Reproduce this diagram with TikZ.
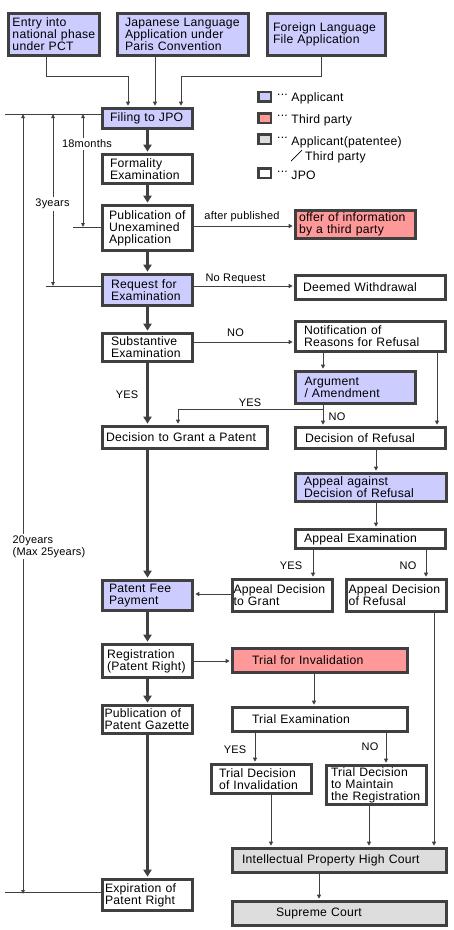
\documentclass[tikz,border=0pt]{standalone}
\usepackage{fontspec}
\setmainfont{Liberation Sans}[LetterSpace=2]
\usepackage{tikz}
\usetikzlibrary{arrows.meta}
\definecolor{lineGray}{HTML}{404040}
\definecolor{appBlue}{HTML}{CCCCFF}
\definecolor{thirdRed}{HTML}{FF9999}
\definecolor{courtGray}{HTML}{DDDDDD}
\tikzset{
  >=Stealth,
  every node/.append style={font=\fontsize{12.2}{12}\selectfont},
}
\newcommand{\lgdots}{\raisebox{6.5pt}{...}}

\begin{document}
\begin{tikzpicture}[
  x=1pt, y=-1pt,
  box/.style   ={draw=lineGray, line width=3pt, inner xsep=0pt, inner ysep=0pt, align=left},
  sz/.style n args={3}{minimum width=#1pt, text width=#1pt, minimum height=#2pt,
                 execute at begin node={\leftskip=#3pt\rightskip=-30pt plus 1fil}},
  cApp/.style  ={box, fill=appBlue},
  cThird/.style={box, fill=thirdRed},
  cCourt/.style={box, fill=courtGray},
  cJPO/.style  ={box, fill=white},
  lgbox/.style ={line width=2.5pt, minimum width=12.5pt, minimum height=9.5pt},
  lgtext/.style={anchor=base west, inner sep=0pt},
  arrowthin/.style ={draw=lineGray, line width=1pt, -{Triangle[length=4pt,width=4pt]}, shorten >=1.3pt},
  arrowthick/.style={draw=lineGray, line width=3.5pt, -{Triangle[length=7pt,width=8pt]}, shorten >=1.3pt},
  tline/.style ={draw=lineGray, line width=0.8pt},
  tarrow/.style={tline, {Triangle[length=4pt,width=3.5pt]}-{Triangle[length=4pt,width=3.5pt]}},
  note/.style  ={font=\fontsize{11}{12}\selectfont, inner sep=1pt},
  gap/.style   ={note, fill=white, inner sep=2pt}
]
\useasboundingbox (0,0) rectangle (454,930);

% applications
\node[cApp, sz={91}{42}{4}]     (entry) at (54,34.5)    {Entry into\\national phase\\under PCT};
\node[cApp, sz={131}{42}{7.5}]  (jpn)   at (183,34.5)   {Japanese Language\\Application under\\Paris Convention};
\node[cApp, sz={118}{42}{5.5}]  (frgn)  at (326.5,34.5) {Foreign Language\\File Application};

% main column
\node[cApp, sz={90}{20}{7.5}]   (filing)  at (147.5,118.5) {Filing to JPO};
\node[cJPO, sz={90}{29}{7.5}]   (formal)  at (147.5,169)   {Formality\\Examination};
\node[cJPO, sz={90}{45}{6.5}]   (pubapp)  at (147.5,228)   {Publication of\\Unexamined\\Application};
\node[cApp, sz={90}{31}{8.5}]   (request) at (147.5,290)   {Request for\\Examination};
\node[cJPO, sz={90}{28}{8.5}]   (subst)   at (147.5,347.5) {Substantive\\Examination};
\node[cJPO, sz={165}{22}{3.5}]  (grant)   at (185,437.5)   {Decision to Grant a Patent};
\node[cApp, sz={90}{30}{6.5}]   (fee)     at (147.5,595.5) {Patent Fee\\Payment};
\node[cJPO, sz={90}{33}{4.5}]   (regist)  at (147.5,661)   {Registration\\(Patent Right)};
\node[cJPO, sz={90}{28}{2}]     (gazette) at (147.5,719.5) {Publication of\\Patent Gazette};
\node[cJPO, sz={90}{31}{2.5}]   (expire)  at (147.5,895)   {Expiration of\\Patent Right};

% right column
\node[cThird, sz={120}{28}{3.5}] (offer)     at (355.5,224.5) {offer of information\\by a third party};
\node[cJPO, sz={150}{24}{7.5}]   (withdraw)  at (370.5,287.5) {Deemed Withdrawal};
\node[cJPO, sz={150}{30}{8.5}]   (notice)    at (370.5,336.5) {Notification of\\Reasons for Refusal};
\node[cApp, sz={120}{32}{9}]     (argue)     at (355.5,387.5) {Argument\\/ Amendment};
\node[cJPO, sz={150}{21}{9.5}]   (refusal)   at (370.5,438)   {Decision of Refusal};
\node[cApp, sz={151}{28}{8.5}]   (appeal)    at (371,487.5)   {Appeal against\\Decision of Refusal};
\node[cJPO, sz={150}{19}{8.5}]   (appexam)   at (370.5,539)   {Appeal Examination};
\node[cJPO, sz={100}{32}{1}]     (appgrant)  at (282.5,595.5) {Appeal Decision\\to Grant};
\node[cJPO, sz={100}{32}{2}]     (apprefuse) at (396.5,595.5) {Appeal Decision\\of Refusal};
\node[cThird, sz={175}{24}{19.5}] (trial)    at (320,660.5)   {Trial for Invalidation};
\node[cJPO, sz={175}{24}{19.5}]  (trialexam) at (320,719.5)   {Trial Examination};
\node[cJPO, sz={100}{29}{7.5}]   (invalid)   at (261.5,779)   {Trial Decision\\of Invalidation};
\node[cJPO, sz={100}{39}{4.5}]   (maintain)  at (376.5,785)   {Trial Decision\\to Maintain\\the Registration};
\node[cCourt, sz={214}{24}{9.5}] (ipcourt)   at (339.5,860.5) {Intellectual Property High Court};
\node[cCourt, sz={214}{24}{43.5}] (supreme)  at (339.5,913.5) {Supreme Court};

% legend
\node[cApp,   lgbox] (lgApp)    at (264.5,96.5) {};
\node[cThird, lgbox] (lgThird)  at (264.5,118)  {};
\node[cCourt, lgbox] (lgCourt)  at (264.5,139)  {};
\node[cJPO,   lgbox] (lgJPO)    at (264.5,173)  {};
\node[lgtext] (lgAppText)   at (277,101.5) {\lgdots\ Applicant};
\node[lgtext] (lgThirdText) at (277,123)   {\lgdots\ Third party};
\node[lgtext] (lgCourtText) at (277,145)   {\lgdots\ Applicant(patentee)};
\node[lgtext] (lgCourtAlt)  at (305,160)   {Third party};
\draw[line width=0.7pt] (291,161) -- (302,150);
\node[lgtext] (lgJPOText)   at (277,179)   {\lgdots\ JPO};

% filing inputs
\draw[arrowthin] (entry.south -| 46,0) |- (128,76) -- (filing.north -| 128,0);
\draw[arrowthin] (jpn.south -| 155,0) -- (filing.north -| 155,0);
\draw[arrowthin] (frgn.south -| 321,0) |- (181,76) -- (filing.north -| 181,0);

% main flow
\draw[arrowthick] (filing) -- (formal);
\draw[arrowthick] (formal) -- (pubapp);
\draw[arrowthick] (pubapp) -- (request);
\draw[arrowthick] (request) -- (subst);
\draw[arrowthick] (subst.south) -- (subst.south |- grant.north);
\draw[arrowthick] (grant.south -| fee.north) -- (fee.north);
\draw[arrowthick] (fee) -- (regist);
\draw[arrowthick] (regist) -- (gazette);
\draw[arrowthick] (gazette) -- (expire);
\node[note] (lYes1) at (127,394.5) {YES};

% examination branches
\draw[arrowthin] (pubapp.east |- 0,226) -- (offer.west |- 0,226);
\node[note] (lAfter) at (242,217) {after published};
\draw[arrowthin] (request.east |- 0,286) -- (withdraw.west |- 0,286);
\node[note] (lNoReq) at (235.5,278.5) {No Request};
\draw[arrowthin] (subst.east |- 0,342) -- (notice.west |- 0,342);
\node[note] (lNo1) at (235.5,332.5) {NO};
\draw[arrowthin] (notice.south -| 323,0) -- (argue.north -| 323,0);
\draw[arrowthin] (argue.south -| 323,0) -- (refusal.north -| 323,0);
\coordinate (fork) at (323,409);
\draw[arrowthin] (fork) -| (grant.north -| 178,0);
\node[note] (lYes2) at (250,402.5) {YES};
\node[note, anchor=west] (lNo2) at (327.5,416.5) {NO};
\draw[arrowthin] (notice.south -| 437,0) -- (refusal.north -| 437,0);

% appeal
\draw[arrowthin] (refusal.south -| 376,0) -- (appeal.north -| 376,0);
\draw[arrowthin] (appeal.south -| 376,0) -- (appexam.north -| 376,0);
\draw[arrowthin] (appexam.south -| 313,0) -- (appgrant.north -| 313,0);
\node[note] (lYes3) at (291,566) {YES};
\draw[arrowthin] (appexam.south -| 426,0) -- (apprefuse.north -| 426,0);
\node[note] (lNo3) at (408,566) {NO};
\draw[arrowthin] (appgrant.west |- 0,594) -- (fee.east |- 0,594);
\draw[arrowthin] (apprefuse.south -| 434,0) -- (ipcourt.north -| 434,0);

% invalidation trial
\draw[arrowthin] (regist.east |- 0,661) -- (trial.west |- 0,661);
\draw[arrowthin] (trial.south -| 314,0) -- (trialexam.north -| 314,0);
\draw[arrowthin] (trialexam.south -| 255,0) -- (invalid.north -| 255,0);
\node[note] (lYes4) at (235,749.5) {YES};
\draw[arrowthin] (trialexam.south -| 386,0) -- (maintain.north -| 386,0);
\node[note] (lNo4) at (370,747) {NO};
\draw[arrowthin] (invalid.south -| 271,0) -- (ipcourt.north -| 271,0);
\draw[arrowthin] (maintain.south -| 369,0) -- (ipcourt.north -| 369,0);
\draw[arrowthin] (ipcourt.south -| 319,0) -- (supreme.north -| 319,0);

% time limits
\coordinate (tTop) at (5,114);
\coordinate (tPub) at (73,227);
\coordinate (tReq) at (46,286);
\coordinate (tEnd) at (5,892);
\draw[tline] (tTop) -- (filing.west |- tTop);
\draw[tline] (tPub) -- (pubapp.west |- tPub);
\draw[tline] (tReq) -- (request.west |- tReq);
\draw[tline] (tEnd) -- (expire.west |- tEnd);
\draw[tarrow] (tTop -| 23,0) -- ([yshift=-2pt]tEnd -| 23,0);
\draw[tarrow] (tTop -| 53,0) -- (tReq -| 53,0);
\draw[tarrow] (tTop -| 83,0) -- (tPub -| 83,0);
\node[gap] (l18m) at (87,144) {18months};
\node[gap] (l3y)  at (52.5,204) {3years};
\node[gap, align=left] (l20y) at (49,546.5) {20years\\(Max 25years)};

\end{tikzpicture}
\end{document}
